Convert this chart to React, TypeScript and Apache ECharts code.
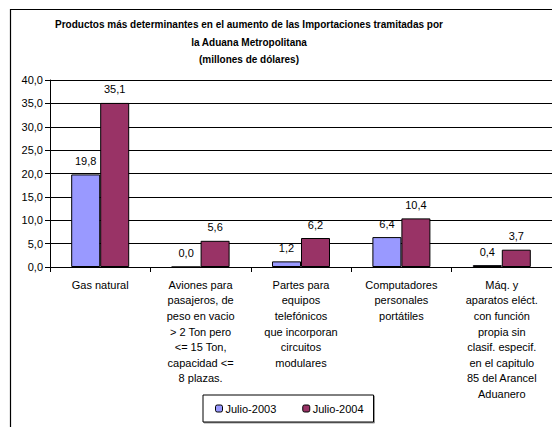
import React, { useEffect, useRef } from "react";
import * as echarts from "echarts";

const categories = [
  "Gas natural",
  "Aviones para\npasajeros, de\npeso en vacio\n> 2 Ton pero\n<= 15 Ton,\ncapacidad <=\n8 plazas.",
  "Partes para\nequipos\ntelefónicos\nque incorporan\ncircuitos\nmodulares",
  "Computadores\npersonales\nportátiles",
  "Máq. y\naparatos eléct.\ncon función\npropia sin\nclasif. especif.\nen el capitulo\n85 del Arancel\nAduanero",
];
const julio2003 = [19.8, 0.0, 1.2, 6.4, 0.4];
const julio2004 = [35.1, 5.6, 6.2, 10.4, 3.7];
const seriesNames = ["Julio-2003", "Julio-2004"];
const titleText =
  "Productos más determinantes en el aumento de las Importaciones tramitadas por\nla Aduana Metropolitana\n(millones de dólares)";

const FONT = "Liberation Sans, Arial, sans-serif";
const fmt = (v: number) => v.toFixed(1).replace(".", ",");

export default function App() {
  const ref = useRef<HTMLDivElement>(null);
  useEffect(() => {
    if (!ref.current) return;
    const chart = echarts.init(ref.current, undefined, { renderer: "svg" });
    const labelStyle = {
      show: true,
      position: "top" as const,
      distance: 8,
      color: "#000",
      fontSize: 11,
      fontFamily: FONT,
      formatter: (p: any) => fmt(p.value),
    };
    chart.setOption({
      animation: false,
      backgroundColor: "#fff",
      textStyle: { fontFamily: FONT },
      title: {
        text: titleText,
        left: 244,
        textAlign: "center",
        top: 11,
        textStyle: {
          fontSize: 10,
          fontWeight: "bold",
          fontFamily: FONT,
          color: "#000",
          lineHeight: 17.5,
        },
      },
      graphic: [
        {
          type: "rect",
          shape: { x: 10.5, y: 9.5, width: 700, height: 600 },
          style: { fill: "none", stroke: "#000", lineWidth: 1.2 },
          silent: true,
        },
      ],
      legend: {
        left: 203,
        top: 395,
        padding: [8, 10, 8, 12],
        itemWidth: 7,
        itemHeight: 7,
        itemGap: 26,
        borderColor: "#000",
        borderWidth: 1,
        backgroundColor: "#fff",
        shadowColor: "rgba(0,0,0,0.4)",
        shadowOffsetX: 1,
        shadowOffsetY: 1,
        shadowBlur: 0,
        textStyle: { fontSize: 11, fontFamily: FONT, color: "#000", padding: [0, 0, 0, -2] },
        data: seriesNames.map((n) => ({ name: n, itemStyle: { borderColor: "#000", borderWidth: 1 } })),
      },
      grid: { left: 50, right: -5, top: 80, bottom: 160, containLabel: false },
      xAxis: {
        type: "category",
        data: categories,
        axisLine: { show: true, lineStyle: { color: "#000", width: 1 } },
        axisTick: { show: true, length: 5, alignWithLabel: false, lineStyle: { color: "#000" } },
        axisLabel: {
          interval: 0,
          color: "#000",
          fontSize: 11,
          fontFamily: FONT,
          lineHeight: 15.6,
          margin: 10,
          verticalAlign: "top",
        },
      },
      yAxis: {
        type: "value",
        min: 0,
        max: 40,
        interval: 5,
        axisLine: { show: true, lineStyle: { color: "#000", width: 1 } },
        axisTick: { show: true, length: 5, lineStyle: { color: "#000" } },
        axisLabel: {
          color: "#000",
          fontSize: 11,
          fontFamily: FONT,
          margin: 7,
          formatter: (v: number) => fmt(v),
        },
        splitLine: { show: true, lineStyle: { color: "#000", width: 1 } },
      },
      series: [
        {
          name: seriesNames[0],
          type: "bar",
          data: julio2003,
          barWidth: 29,
          barGap: "0%",
          itemStyle: { color: "#9999FF", borderColor: "#000", borderWidth: 1 },
          label: labelStyle,
        },
        {
          name: seriesNames[1],
          type: "bar",
          data: julio2004,
          barWidth: 29,
          barGap: "0%",
          itemStyle: { color: "#993366", borderColor: "#000", borderWidth: 1 },
          label: labelStyle,
        },
      ],
    });
    return () => chart.dispose();
  }, []);
  return (
    <div
      ref={ref}
      style={{ position: "fixed", left: 0, top: 0, width: 552, height: 427 }}
    />
  );
}
